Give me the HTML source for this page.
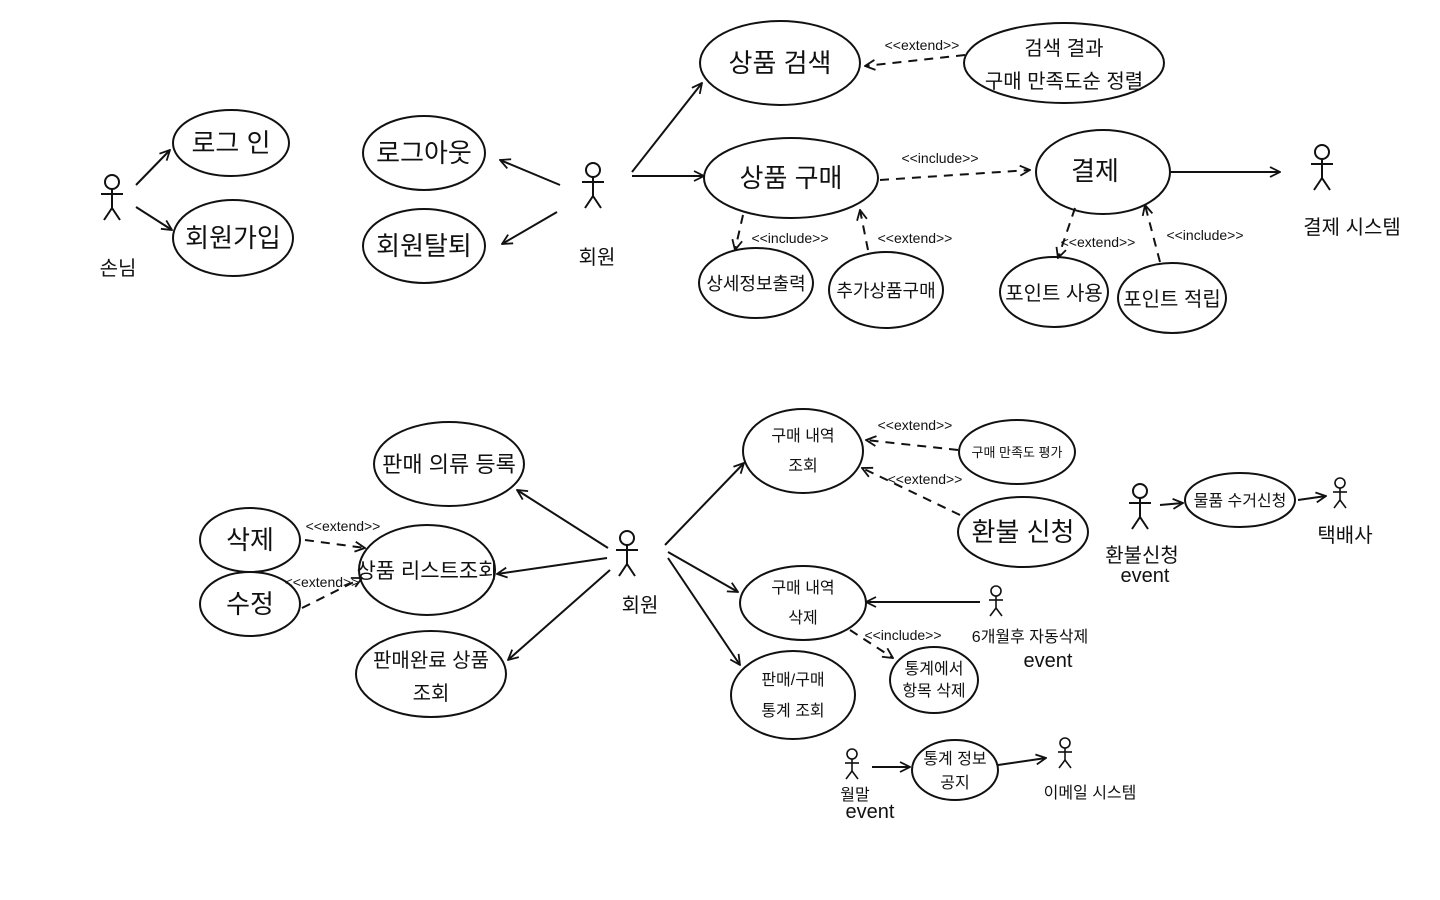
<!DOCTYPE html>
<html><head><meta charset="utf-8"><style>
html,body{margin:0;padding:0;background:#fff;width:1440px;height:900px;overflow:hidden}
svg text{font-family:"Liberation Sans","Noto Sans CJK KR","NanumGothic",sans-serif;fill:#111}
</style></head><body>
<svg width="1440" height="900" viewBox="0 0 1440 900" xmlns="http://www.w3.org/2000/svg">
<defs>
<marker id="a" viewBox="0 0 12 12" refX="11" refY="6" markerWidth="12" markerHeight="12" markerUnits="userSpaceOnUse" orient="auto"><path d="M1,1 L11,6 L1,11" fill="none" stroke="#111" stroke-width="1.8"/></marker>
<g id="actor" fill="none" stroke="#111" stroke-width="2">
<circle cx="0" cy="-14" r="7"/><line x1="0" y1="-7" x2="0" y2="12"/><line x1="-11" y1="-2" x2="11" y2="-2"/><line x1="0" y1="12" x2="-8" y2="24"/><line x1="0" y1="12" x2="8" y2="24"/></g>
<g id="actors" fill="none" stroke="#111" stroke-width="1.6">
<circle cx="0" cy="-9" r="5"/><line x1="0" y1="-4" x2="0" y2="8"/><line x1="-7" y1="0" x2="7" y2="0"/><line x1="0" y1="8" x2="-6" y2="16"/><line x1="0" y1="8" x2="6" y2="16"/></g>
</defs>
<g fill="none" stroke="#111" stroke-width="2">
<ellipse cx="231" cy="143" rx="58" ry="33"/>
<ellipse cx="233" cy="238" rx="60" ry="38"/>
<ellipse cx="424" cy="153" rx="61" ry="37"/>
<ellipse cx="424" cy="246" rx="61" ry="37"/>
<ellipse cx="780" cy="63" rx="80" ry="42"/>
<ellipse cx="1064" cy="63" rx="100" ry="40"/>
<ellipse cx="791" cy="178" rx="87" ry="40"/>
<ellipse cx="1103" cy="172" rx="67" ry="42"/>
<ellipse cx="756" cy="283" rx="57" ry="35"/>
<ellipse cx="886" cy="290" rx="57" ry="38"/>
<ellipse cx="1054" cy="292" rx="54" ry="35"/>
<ellipse cx="1172" cy="298" rx="54" ry="35"/>
<ellipse cx="449" cy="464" rx="75" ry="42"/>
<ellipse cx="250" cy="540" rx="50" ry="32"/>
<ellipse cx="250" cy="604" rx="50" ry="32"/>
<ellipse cx="427" cy="570" rx="68" ry="45"/>
<ellipse cx="431" cy="674" rx="75" ry="43"/>
<ellipse cx="803" cy="451" rx="60" ry="42"/>
<ellipse cx="1017" cy="452" rx="58" ry="32"/>
<ellipse cx="1023" cy="532" rx="65" ry="35"/>
<ellipse cx="803" cy="603" rx="63" ry="37"/>
<ellipse cx="934" cy="680" rx="44" ry="33"/>
<ellipse cx="793" cy="695" rx="62" ry="44"/>
<ellipse cx="1240" cy="500" rx="55" ry="27"/>
<ellipse cx="955" cy="770" rx="43" ry="30"/>
</g>
<use href="#actor" x="112" y="196"/>
<use href="#actor" x="593" y="184"/>
<use href="#actor" x="1322" y="166"/>
<use href="#actor" x="627" y="552"/>
<use href="#actors" x="996" y="600"/>
<use href="#actor" x="1140" y="505"/>
<use href="#actors" x="1340" y="492"/>
<use href="#actors" x="852" y="763"/>
<use href="#actors" x="1065" y="752"/>
<g fill="none" stroke="#111" stroke-width="2" marker-end="url(#a)">
<line x1="136" y1="185" x2="170" y2="150"/>
<line x1="136" y1="207" x2="172" y2="230"/>
<line x1="560" y1="185" x2="500" y2="160"/>
<line x1="557" y1="212" x2="502" y2="244"/>
<line x1="632" y1="172" x2="702" y2="83"/>
<line x1="632" y1="176" x2="704" y2="176"/>
<line x1="1170" y1="172" x2="1280" y2="172"/>
<line x1="608" y1="548" x2="517" y2="490"/>
<line x1="607" y1="558" x2="497" y2="574"/>
<line x1="610" y1="570" x2="508" y2="660"/>
<line x1="665" y1="545" x2="744" y2="463"/>
<line x1="668" y1="552" x2="738" y2="592"/>
<line x1="668" y1="558" x2="740" y2="665"/>
<line x1="980" y1="602" x2="866" y2="602"/>
<line x1="1160" y1="505" x2="1183" y2="503"/>
<line x1="1298" y1="500" x2="1326" y2="496"/>
<line x1="872" y1="767" x2="910" y2="767"/>
<line x1="998" y1="765" x2="1046" y2="758"/>
</g>
<g fill="none" stroke="#111" stroke-width="2" stroke-dasharray="9,7" marker-end="url(#a)">
<line x1="965" y1="55" x2="865" y2="66"/>
<line x1="880" y1="180" x2="1030" y2="170"/>
<line x1="743" y1="215" x2="735" y2="250"/>
<line x1="868" y1="250" x2="860" y2="210"/>
<line x1="1075" y1="208" x2="1058" y2="258"/>
<line x1="1160" y1="262" x2="1145" y2="205"/>
<line x1="305" y1="540" x2="365" y2="548"/>
<line x1="302" y1="608" x2="362" y2="578"/>
<line x1="958" y1="450" x2="866" y2="440"/>
<line x1="960" y1="515" x2="862" y2="468"/>
<line x1="850" y1="630" x2="893" y2="658"/>
</g>
<g font-size="26" text-anchor="middle">
<text x="231" y="152">로그 인</text>
<text x="233" y="247">회원가입</text>
<text x="424" y="162">로그아웃</text>
<text x="424" y="255">회원탈퇴</text>
<text x="780" y="72">상품 검색</text>
<text x="791" y="187">상품 구매</text>
<text x="1095" y="180">결제</text>
<text x="449" y="472" font-size="22">판매 의류 등록</text>
<text x="250" y="549">삭제</text>
<text x="250" y="613">수정</text>
<text x="427" y="578" font-size="21">상품 리스트조회</text>
<text x="1023" y="541">환불 신청</text>
</g>
<g font-size="20" text-anchor="middle">
<text x="118" y="275">손님</text>
<text x="597" y="264">회원</text>
<text x="1064" y="55">검색 결과</text>
<text x="1064" y="88">구매 만족도순 정렬</text>
<text x="1352" y="234">결제 시스템</text>
<text x="756" y="290" font-size="18">상세정보출력</text>
<text x="886" y="297" font-size="18">추가상품구매</text>
<text x="1054" y="300">포인트 사용</text>
<text x="1172" y="306">포인트 적립</text>
<text x="431" y="667">판매완료 상품</text>
<text x="431" y="700">조회</text>
<text x="640" y="612">회원</text>
<text x="1142" y="562">환불신청</text>
<text x="1145" y="582">event</text>
<text x="1240" y="506" font-size="16">물품 수거신청</text>
<text x="1345" y="542">택배사</text>
</g>
<g font-size="16" text-anchor="middle">
<text x="803" y="441">구매 내역</text>
<text x="803" y="471">조회</text>
<text x="1017" y="457" font-size="13">구매 만족도 평가</text>
<text x="803" y="593">구매 내역</text>
<text x="803" y="623">삭제</text>
<text x="1030" y="642">6개월후 자동삭제</text>
<text x="1048" y="667" font-size="20">event</text>
<text x="934" y="674">통계에서</text>
<text x="934" y="696">항목 삭제</text>
<text x="793" y="685">판매/구매</text>
<text x="793" y="716">통계 조회</text>
<text x="955" y="764">통계 정보</text>
<text x="955" y="788">공지</text>
<text x="855" y="800">월말</text>
<text x="870" y="818" font-size="20">event</text>
<text x="1090" y="798">이메일 시스템</text>
</g>
<g font-size="14" text-anchor="middle">
<text x="922" y="50">&lt;&lt;extend&gt;&gt;</text>
<text x="940" y="163">&lt;&lt;include&gt;&gt;</text>
<text x="790" y="243">&lt;&lt;include&gt;&gt;</text>
<text x="915" y="243">&lt;&lt;extend&gt;&gt;</text>
<text x="1098" y="247">&lt;&lt;extend&gt;&gt;</text>
<text x="1205" y="240">&lt;&lt;include&gt;&gt;</text>
<text x="343" y="531">&lt;&lt;extend&gt;&gt;</text>
<text x="322" y="587">&lt;&lt;extend&gt;&gt;</text>
<text x="915" y="430">&lt;&lt;extend&gt;&gt;</text>
<text x="925" y="484">&lt;&lt;extend&gt;&gt;</text>
<text x="903" y="640">&lt;&lt;include&gt;&gt;</text>
</g>
</svg>
</body></html>
